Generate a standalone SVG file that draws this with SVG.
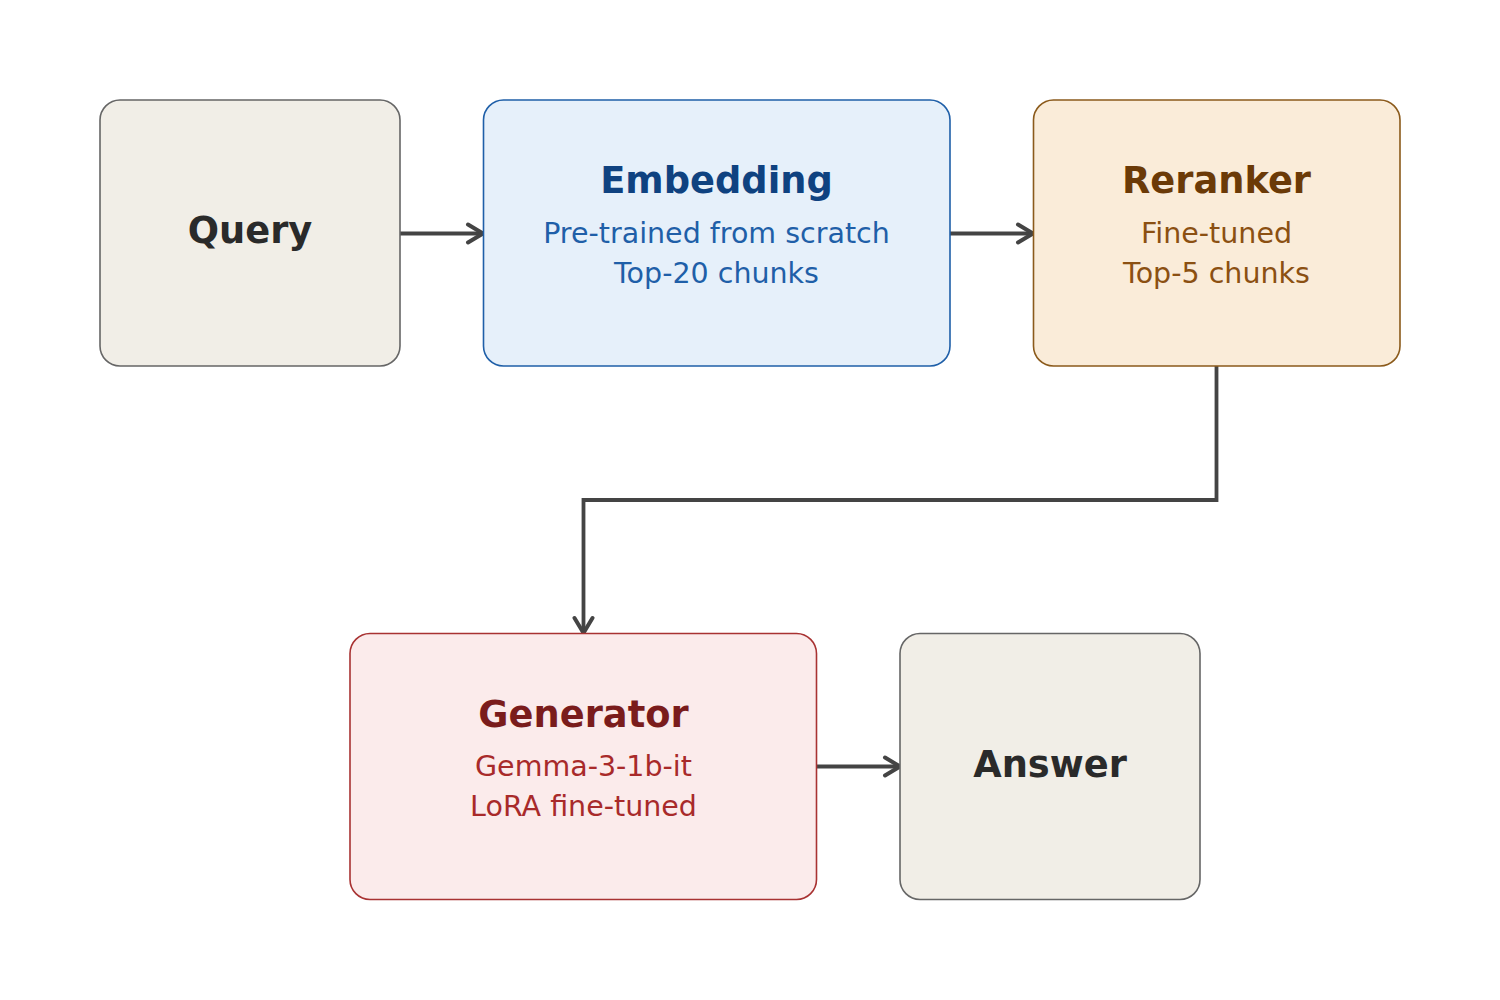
<svg xmlns="http://www.w3.org/2000/svg" width="1500" height="1000" viewBox="0 0 1500 1000">
<defs>
<marker id="arr" viewBox="0 0 24 24" refX="20" refY="12" markerWidth="24" markerHeight="24" markerUnits="userSpaceOnUse" orient="auto">
<path d="M5,3 L20,12 L5,21" fill="none" stroke="#444444" stroke-width="4" stroke-linecap="round" stroke-linejoin="round"/>
</marker>
<style>
text{font-family:"DejaVu Sans","Liberation Sans",sans-serif;text-anchor:middle}
.t{font-size:36.8px;font-weight:bold}
.s{font-size:28.5px}
.box{stroke-width:1.6}
.gray rect{fill:#f1eee7;stroke:#666666}
.gray text{fill:#2a2a2a}
.blue rect{fill:#e6f0fa;stroke:#1f5fa8}
.blue .t{fill:#0f4280}
.blue .s{fill:#1f5fa8}
.tan rect{fill:#faecd9;stroke:#8b5a1b}
.tan .t{fill:#6b3a07}
.tan .s{fill:#8b5012}
.red rect{fill:#fbebeb;stroke:#a83232}
.red .t{fill:#7a1c1c}
.red .s{fill:#a82a2a}
.c{fill:none;stroke:#444444;stroke-width:3.8;marker-end:url(#arr)}
</style>
</defs>
<rect width="1500" height="1000" fill="#ffffff"/>
<g id="connectors">
<path class="c" d="M400,233.5 H483"/>
<path class="c" d="M950,233.5 H1033"/>
<path class="c" d="M1216.5,366 V500 H583.5 V633"/>
<path class="c" d="M817,766.5 H900"/>
</g>
<g id="query" class="gray">
<rect class="box" x="100" y="100" width="300" height="266" rx="20"/>
<text class="t" x="250" y="243">Query</text>
</g>
<g id="embedding" class="blue">
<rect class="box" x="483.5" y="100" width="466.5" height="266" rx="20"/>
<text class="t" x="716.5" y="193">Embedding</text>
<text class="s" x="716.5" y="243">Pre-trained from scratch</text>
<text class="s" x="716.5" y="283">Top-20 chunks</text>
</g>
<g id="reranker" class="tan">
<rect class="box" x="1033.5" y="100" width="366.5" height="266" rx="20"/>
<text class="t" x="1216.5" y="193">Reranker</text>
<text class="s" x="1216.5" y="243">Fine-tuned</text>
<text class="s" x="1216.5" y="283">Top-5 chunks</text>
</g>
<g id="generator" class="red">
<rect class="box" x="350" y="633.5" width="466.5" height="266" rx="20"/>
<text class="t" x="583.5" y="727">Generator</text>
<text class="s" x="583.5" y="776">Gemma-3-1b-it</text>
<text class="s" x="583.5" y="816">LoRA fine-tuned</text>
</g>
<g id="answer" class="gray">
<rect class="box" x="900" y="633.5" width="300" height="266" rx="20"/>
<text class="t" x="1050" y="777">Answer</text>
</g>
</svg>
